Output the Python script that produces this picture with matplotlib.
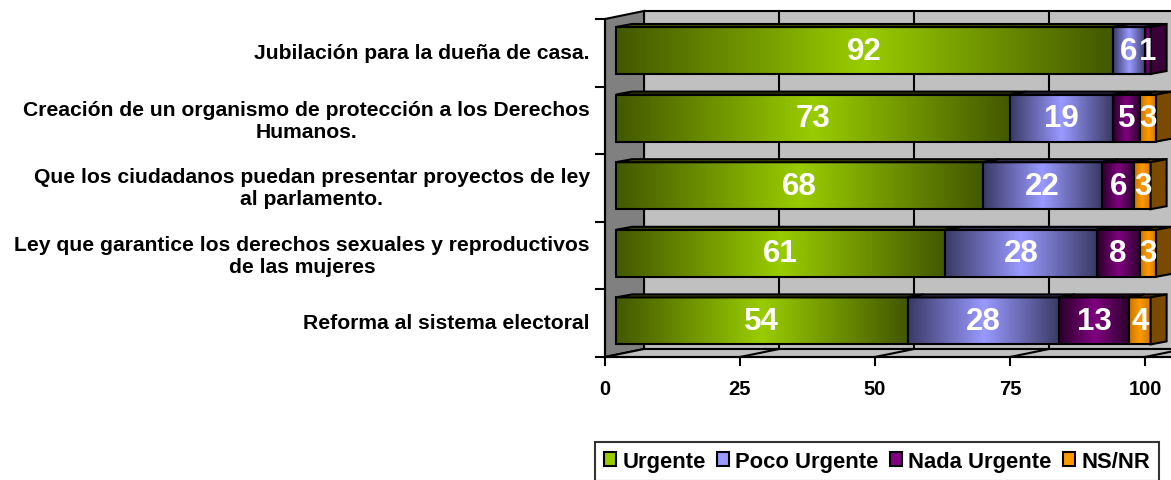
import numpy as np
import matplotlib.pyplot as plt
from matplotlib.colors import LinearSegmentedColormap
from matplotlib.patches import Polygon, Rectangle, Patch

plt.rcParams['font.family'] = ['Liberation Sans', 'DejaVu Sans']
plt.rcParams['font.weight'] = 'bold'

# data
categories = [
    'Jubilación para la dueña de casa.',
    'Creación de un organismo de protección a los Derechos\nHumanos.',
    'Que los ciudadanos puedan presentar proyectos de ley\nal parlamento.',
    'Ley que garantice los derechos sexuales y reproductivos\nde las mujeres',
    'Reforma al sistema electoral',
]
series_names = ['Urgente', 'Poco Urgente', 'Nada Urgente', 'NS/NR']
urgente = [92, 73, 68, 61, 54]
poco_urgente = [6, 19, 22, 28, 28]
nada_urgente = [1, 5, 6, 8, 13]
ns_nr = [0, 3, 3, 3, 4]
x_ticks = [0, 25, 50, 75, 100]

series = [urgente, poco_urgente, nada_urgente, ns_nr]
# (dark edge, light centre, top face, side face)
shades = [
    ('#435800', '#99cc00', '#3d5000', '#3a4c00'),
    ('#3a3a66', '#9999ff', '#35355e', '#30305a'),
    ('#2a002a', '#800080', '#330033', '#3a003a'),
    ('#c87800', '#ff9900', '#7a4a00', '#7a4a00'),
]
legend_colors = ['#99cc00', '#9999ff', '#800080', '#ff9900']

# geometry (pixels -> data)
W, H = 1171, 481
XS, X0 = 5.4, 616      # px per unit, px of zero on bar plane
YS, Y0 = 67.6, 51.5    # px per category, px of first row centre


def hx(px):
    return px / XS


def vy(px):
    return px / YS


FRONT = (hx(-11), vy(2.3))
BACK = (hx(28), vy(-5.7))
DEPTH = (hx(16), vy(-3))
bar_h = 47 / YS
n = len(categories)

fig = plt.figure(figsize=(W / 100, H / 100), dpi=100)
ax = fig.add_axes([0, 0, 1, 1])

top_b, bot_b = -0.5, n - 0.5
xr = 140

# back wall
ax.add_patch(Polygon([(BACK[0], top_b + BACK[1]), (xr, top_b + BACK[1]),
                      (xr, bot_b + BACK[1]), (BACK[0], bot_b + BACK[1])],
                     closed=True, facecolor='#c0c0c0', edgecolor='black', lw=1.5, zorder=1))
for v in x_ticks[1:]:
    ax.plot([v + BACK[0]] * 2, [top_b + BACK[1], bot_b + BACK[1]], color='black', lw=1.5, zorder=1.5)
# left wall
ax.add_patch(Polygon([(FRONT[0], top_b + FRONT[1]), (BACK[0], top_b + BACK[1]),
                      (BACK[0], bot_b + BACK[1]), (FRONT[0], bot_b + FRONT[1])],
                     closed=True, facecolor='#808080', edgecolor='black', lw=1.5, zorder=2))
# floor
ax.add_patch(Polygon([(FRONT[0], bot_b + FRONT[1]), (BACK[0], bot_b + BACK[1]),
                      (xr, bot_b + BACK[1]), (xr, bot_b + FRONT[1])],
                     closed=True, facecolor='#c0c0c0', edgecolor='black', lw=1.5, zorder=2))
for v in x_ticks[1:]:
    ax.plot([v + BACK[0], v + FRONT[0]], [bot_b + BACK[1], bot_b + FRONT[1]],
            color='black', lw=1.5, zorder=2.5)

# front axes
ax.plot([FRONT[0], FRONT[0]], [top_b + FRONT[1], bot_b + FRONT[1]], color='black', lw=1.5, zorder=2.6)
for k in range(n + 1):
    yb = k - 0.5 + FRONT[1]
    ax.plot([FRONT[0] - hx(9), FRONT[0]], [yb, yb], color='black', lw=1.5, zorder=2.6)
ax.plot([FRONT[0], xr], [bot_b + FRONT[1]] * 2, color='black', lw=1.5, zorder=2.6)
for v in x_ticks:
    ax.plot([v + FRONT[0]] * 2, [bot_b + FRONT[1], bot_b + FRONT[1] + vy(8)],
            color='black', lw=1.5, zorder=2.6)
    ax.text(v + FRONT[0], bot_b + FRONT[1] + vy(32), str(v), ha='center', va='center',
            fontsize=14.5, fontweight='bold')

# bars
grad = np.linspace(0, 1, 256)[None, :]
for i in range(n):
    top, bot = i - bar_h / 2, i + bar_h / 2
    left = 0
    last = None
    for s, vals in enumerate(series):
        v = vals[i]
        if v == 0:
            continue
        right = left + v
        dark, light, topc, side = shades[s]
        cm = LinearSegmentedColormap.from_list('c%d' % s, [dark, light, dark])
        ax.imshow(grad, extent=(left, right, bot, top), cmap=cm, aspect='auto',
                  interpolation='bilinear', zorder=3)
        ax.add_patch(Rectangle((left, top), v, bar_h, fill=False, edgecolor='black', lw=1.5, zorder=4))
        ax.add_patch(Polygon([(left, top), (left + DEPTH[0], top + DEPTH[1]),
                              (right + DEPTH[0], top + DEPTH[1]), (right, top)],
                             closed=True, facecolor=topc, edgecolor='black', lw=1.5, zorder=4))
        ax.text((left + right) / 2, i, str(v), color='white', fontsize=22.5, fontweight='bold',
                ha='center', va='center', zorder=6)
        left = right
        last = s
    side = shades[last][3]
    ax.add_patch(Polygon([(left, top), (left + DEPTH[0], top + DEPTH[1]),
                          (left + DEPTH[0], bot + DEPTH[1]), (left, bot)],
                         closed=True, facecolor=side, edgecolor='black', lw=1.5, zorder=4))
    ax.text(hx(590 - X0), i + vy(2), categories[i], ha='right', va='center', multialignment='center',
            fontsize=15.2, fontweight='bold', linespacing=1.2)

ax.set_xlim(-X0 / XS, (W - X0) / XS)
ax.set_ylim((H - Y0) / YS, -Y0 / YS)
ax.set_axis_off()

handles = [Patch(facecolor=c, edgecolor='black', lw=1.5) for c in legend_colors]
leg = fig.legend(handles, series_names, loc='upper left', bbox_to_anchor=(595 / W, 1 - 443 / H),
                 ncol=4, frameon=True, fancybox=False, edgecolor='black',
                 handlelength=0.55, handleheight=0.55, handletextpad=0.3, columnspacing=0.5,
                 borderpad=0.4, borderaxespad=0, prop={'weight': 'bold', 'size': 15.8})
leg.get_frame().set_linewidth(1.5)

fig.savefig('out.png', dpi=100)
plt.close()
